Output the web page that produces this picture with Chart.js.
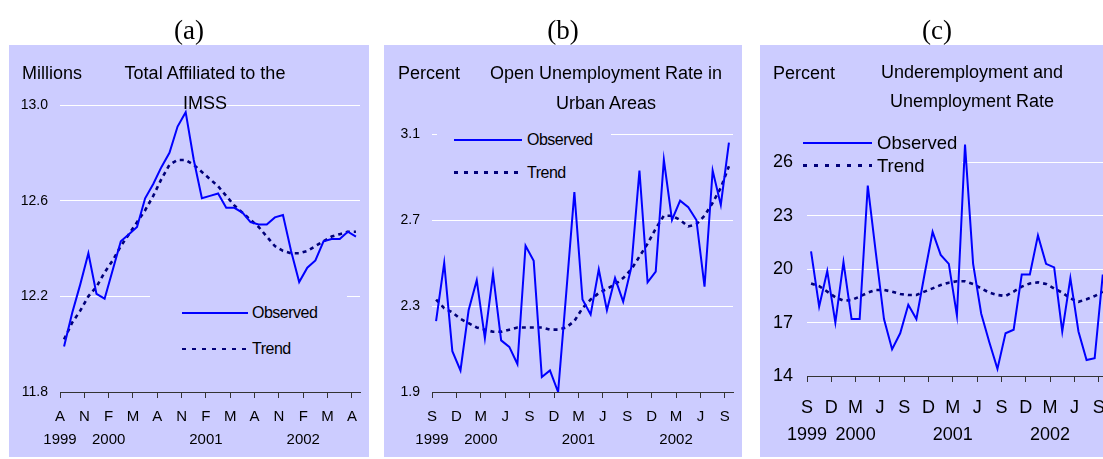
<!DOCTYPE html>
<html lang="en">
<head>
<meta charset="UTF-8">
<title>Employment indicators: observed and trend</title>
<script src="https://cdn.jsdelivr.net/npm/chart.js"></script>
<style>
  body { margin: 0; width: 1103px; height: 459px; overflow: hidden; position: relative;
         background: #fff; color: #000; font-family: 'Liberation Sans', Arial, sans-serif; }
  .panel { position: absolute; top: 45px; height: 412px; background: #ccccff; }
  .panel canvas { position: absolute; left: 0; top: 0; }
  .tag { position: absolute; top: 14px; width: 100px; text-align: center; line-height: 32px;
         font-family: 'Liberation Serif', 'Times New Roman', serif; font-size: 27px; }
  .txt { position: absolute; top: 58px; white-space: nowrap; font-size: 18px; line-height: 30px; }
  .title { width: 300px; text-align: center; }
  .legend { position: absolute; background: #ccccff; }
  .legend div { position: absolute; white-space: nowrap; }
</style>
</head>
<body>
  <div class="panel" style="left:9px;width:360px"><canvas id="chartA" width="360" height="412"></canvas></div>
  <div class="panel" style="left:384px;width:358px"><canvas id="chartB" width="358" height="412"></canvas></div>
  <div class="panel" style="left:760px;width:358px"><canvas id="chartC" width="358" height="412"></canvas></div>

  <div class="tag" style="left:139px">(a)</div>
  <div class="tag" style="left:513px">(b)</div>
  <div class="tag" style="left:887px">(c)</div>

  <div class="txt" style="left:22px">Millions</div>
  <div class="txt title" style="left:55px">Total Affiliated to the<br>IMSS</div>
  <div class="txt" style="left:398px">Percent</div>
  <div class="txt title" style="left:456px">Open Unemployment Rate in<br>Urban Areas</div>
  <div class="txt" style="left:773px">Percent</div>
  <div class="txt title" style="left:822px;line-height:29px">Underemployment and<br>Unemployment Rate</div>

<script>
  // months
  const monthsA = ['Aug 1999','Sep 1999','Oct 1999','Nov 1999','Dec 1999',
    'Jan 2000','Feb 2000','Mar 2000','Apr 2000','May 2000','Jun 2000','Jul 2000','Aug 2000','Sep 2000','Oct 2000','Nov 2000','Dec 2000',
    'Jan 2001','Feb 2001','Mar 2001','Apr 2001','May 2001','Jun 2001','Jul 2001','Aug 2001','Sep 2001','Oct 2001','Nov 2001','Dec 2001',
    'Jan 2002','Feb 2002','Mar 2002','Apr 2002','May 2002','Jun 2002','Jul 2002','Aug 2002'];
  const monthsBC = ['Sep 1999','Oct 1999','Nov 1999','Dec 1999',
    'Jan 2000','Feb 2000','Mar 2000','Apr 2000','May 2000','Jun 2000','Jul 2000','Aug 2000','Sep 2000','Oct 2000','Nov 2000','Dec 2000',
    'Jan 2001','Feb 2001','Mar 2001','Apr 2001','May 2001','Jun 2001','Jul 2001','Aug 2001','Sep 2001','Oct 2001','Nov 2001','Dec 2001',
    'Jan 2002','Feb 2002','Mar 2002','Apr 2002','May 2002','Jun 2002','Jul 2002','Aug 2002','Sep 2002'];

  // (a) total affiliated to the IMSS, millions
  const obsA = [11.99,12.13,12.25,12.38,12.21,12.19,12.31,12.43,12.46,12.49,
                12.61,12.67,12.74,12.80,12.91,12.97,12.77,12.61,12.62,12.63,
                12.57,12.57,12.55,12.51,12.50,12.50,12.53,12.54,12.39,12.26,
                12.32,12.35,12.43,12.44,12.44,12.47,12.45];
  const trendA = [12.02,12.09,12.14,12.20,12.24,12.30,12.35,12.41,12.46,12.51,
                  12.56,12.62,12.69,12.75,12.77,12.77,12.75,12.72,12.69,12.66,
                  12.62,12.58,12.55,12.52,12.49,12.45,12.41,12.39,12.38,12.38,
                  12.39,12.41,12.43,12.45,12.46,12.47,12.47];

  // (b) open unemployment rate in urban areas, percent
  const obsB = [2.23,2.50,2.09,2.00,2.28,2.42,2.15,2.45,2.14,2.11,
                2.03,2.58,2.51,1.97,2.00,1.90,2.36,2.83,2.33,2.26,
                2.47,2.28,2.43,2.32,2.48,2.93,2.41,2.46,2.98,2.70,
                2.79,2.76,2.70,2.39,2.93,2.77,3.06];
  const trendB = [2.33,2.29,2.27,2.24,2.22,2.20,2.19,2.18,2.18,2.19,
                  2.20,2.20,2.20,2.20,2.19,2.19,2.20,2.23,2.29,2.33,
                  2.36,2.38,2.40,2.43,2.47,2.53,2.59,2.66,2.72,2.72,
                  2.70,2.67,2.68,2.72,2.78,2.85,2.95];

  // (c) underemployment and unemployment rate, percent
  const obsC = [21.0,17.9,19.9,17.0,20.4,17.2,17.2,24.7,20.9,17.2,
                15.5,16.4,18.0,17.2,19.7,22.1,20.8,20.3,17.4,27.0,
                20.3,17.5,15.9,14.4,16.4,16.6,19.7,19.7,21.9,20.3,
                20.1,16.5,19.5,16.5,14.9,15.0,19.7];
  const trendC = [19.20,19.05,18.74,18.42,18.23,18.27,18.46,18.68,18.83,18.83,
                  18.74,18.61,18.55,18.55,18.74,18.92,19.11,19.24,19.32,19.32,
                  19.17,18.92,18.68,18.55,18.49,18.74,19.02,19.20,19.26,19.17,
                  18.92,18.68,18.36,18.17,18.31,18.49,18.74];

  // tick labels, one every three months
  const lettersA = ['A','N','F','M','A','N','F','M','A','N','F','M','A'];
  const lettersBC = ['S','D','M','J','S','D','M','J','S','D','M','J','S'];
  const yearLabels = ['1999','','2000','','','','2001','','','','2002','',''];
  const yTicksA = [11.8, 12.2, 12.6, 13.0];
  const yTicksB = [1.9, 2.3, 2.7, 3.1];
  const yTicksC = [14, 17, 20, 23, 26];

  const BLUE = '#0000ff';
  const NAVY = '#00007a';
  const FONT = "'Liberation Sans', Arial, sans-serif";

  function makeChart(id, o) {
    const n = o.months.length;
    const pts = arr => arr.map((v, i) => ({ x: i, y: v }));
    return new Chart(document.getElementById(id), {
      type: 'line',
      data: {
        datasets: [
          { label: 'Observed', data: pts(o.obs), borderColor: BLUE, borderWidth: 2,
            pointRadius: 0, tension: 0 },
          { label: 'Trend', data: pts(o.trend), borderColor: NAVY, borderWidth: 2.6,
            borderDash: [4, 4], pointRadius: 0, tension: 0 }
        ]
      },
      options: {
        responsive: false,
        animation: false,
        events: [],
        layout: { padding: { left: 0, top: o.area.top, right: o.area.right, bottom: 0 } },
        plugins: { legend: { display: false }, tooltip: { enabled: false } },
        scales: {
          x: {
            type: 'linear', bounds: 'data', min: -0.5, max: n - 0.5,
            afterBuildTicks: s => { s.ticks = o.letters.map((_, k) => ({ value: k * 3 - 0.5 })); },
            afterFit: s => { s.height = o.area.bottom; },
            border: { color: '#333', width: 1 },
            grid: { drawOnChartArea: false, tickLength: 6, color: '#333' },
            ticks: {
              autoSkip: false, maxRotation: 0, padding: o.xPad, color: '#000',
              font: { family: FONT, size: o.xFont, lineHeight: o.xLine },
              callback: (v, i) => yearLabels[i] ? [o.letters[i], yearLabels[i]] : o.letters[i]
            }
          },
          y: {
            bounds: 'data', min: o.yMin, max: o.yMax,
            afterBuildTicks: s => { s.ticks = o.yTicks.map(v => ({ value: v })); },
            afterFit: s => { s.width = o.area.left; },
            border: { display: false },
            grid: {
              drawTicks: false, lineWidth: 1,
              color: c => (c.tick && c.tick.value === o.yTicks[0]) ? 'rgba(0,0,0,0)' : '#ffffff'
            },
            ticks: {
              padding: o.yPad, color: '#000',
              font: { family: FONT, size: o.yFont },
              callback: v => v.toFixed(o.dec)
            }
          }
        }
      }
    });
  }

  // legend drawn as html from the chart's own datasets
  function addLegend(chart, spec) {
    const box = document.createElement('div');
    box.className = 'legend';
    box.style.cssText = `left:${spec.box[0]}px;top:${spec.box[1]}px;width:${spec.box[2]}px;height:${spec.box[3]}px`;
    document.body.appendChild(box);
    chart.data.datasets.forEach((ds, i) => {
      const yc = spec.rows[i] - spec.box[1];
      const lw = ds.borderDash ? spec.dashW : 2;
      const line = document.createElement('div');
      line.style.cssText = `left:${spec.sampleX - spec.box[0]}px;top:${yc - lw / 2}px;width:${spec.sampleW}px;height:${lw}px`;
      line.style.background = ds.borderDash
        ? `repeating-linear-gradient(to right, ${ds.borderColor} 0 ${spec.dash[0]}px, transparent ${spec.dash[0]}px ${spec.dash[0] + spec.dash[1]}px)`
        : ds.borderColor;
      box.appendChild(line);
      const txt = document.createElement('div');
      txt.textContent = ds.label;
      txt.style.cssText = `left:${spec.textX - spec.box[0]}px;top:${yc - 12}px;line-height:24px;font-size:${spec.font}px;letter-spacing:${spec.ls}px`;
      box.appendChild(txt);
    });
  }

  const chartA = makeChart('chartA', {
    months: monthsA, obs: obsA, trend: trendA, letters: lettersA, yTicks: yTicksA,
    yMin: 11.8, yMax: 13.0, dec: 1,
    area: { left: 51, right: 9, top: 60, bottom: 65 },
    xFont: 15, xLine: 1.5, xPad: 8, yFont: 14, yPad: 12
  });
  const chartB = makeChart('chartB', {
    months: monthsBC, obs: obsB, trend: trendB, letters: lettersBC, yTicks: yTicksB,
    yMin: 1.9, yMax: 3.1, dec: 1,
    area: { left: 48, right: 9, top: 89, bottom: 65 },
    xFont: 15, xLine: 1.5, xPad: 8, yFont: 14, yPad: 12
  });
  const chartC = makeChart('chartC', {
    months: monthsBC, obs: obsC, trend: trendC, letters: lettersBC, yTicks: yTicksC,
    yMin: 14, yMax: 27.2, dec: 0,
    area: { left: 47, right: 10, top: 96, bottom: 81 },
    xFont: 18, xLine: 1.48, xPad: 13, yFont: 18, yPad: 14
  });

  addLegend(chartA, { box: [150, 290, 197, 75], rows: [313, 349], sampleX: 182, sampleW: 66,
                      textX: 252, font: 16, ls: -0.5, dash: [4, 6], dashW: 2.5 });
  addLegend(chartB, { box: [437, 122, 174, 64], rows: [140, 172.5], sampleX: 454, sampleW: 68,
                      textX: 527, font: 16, ls: -0.5, dash: [4, 6], dashW: 2.5 });
  addLegend(chartC, { box: [800, 128, 162, 48], rows: [142.5, 165.5], sampleX: 803, sampleW: 69,
                      textX: 877, font: 18.5, ls: 0, dash: [4, 7], dashW: 3 });
</script>
</body>
</html>
